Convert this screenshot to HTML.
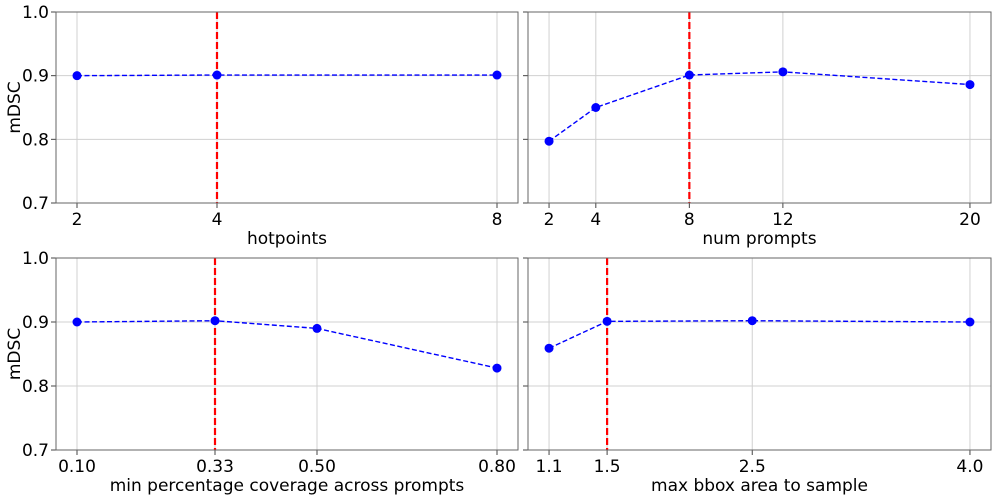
<!DOCTYPE html>
<html><head><meta charset="utf-8"><style>
body{margin:0;background:#fff;}
svg text{font-family:"DejaVu Sans","Liberation Sans",sans-serif;fill:#000;}
</style></head><body>
<svg id="chart" width="997" height="497" xmlns="http://www.w3.org/2000/svg"></svg>
<script>
const hotpointsX=[2,4,8];
const hotpointsY=[0.900,0.901,0.901];
const promptsX=[2,4,8,12,20];
const promptsY=[0.797,0.850,0.901,0.906,0.886];
const coverageX=[0.10,0.33,0.50,0.80];
const coverageY=[0.900,0.902,0.890,0.828];
const bboxX=[1.1,1.5,2.5,4.0];
const bboxY=[0.859,0.901,0.902,0.900];
const yTicks=[0.7,0.8,0.9,1.0];
const yTickLabels=["0.7","0.8","0.9","1.0"];
const hotpointsTicks=["2","4","8"];
const promptsTicks=["2","4","8","12","20"];
const coverageTicks=["0.10","0.33","0.50","0.80"];
const bboxTicks=["1.1","1.5","2.5","4.0"];
const selected=[4,8,0.33,1.5];

const svg=document.getElementById('chart');
const NS="http://www.w3.org/2000/svg";
function mk(tag,attrs,parent){const e=document.createElementNS(NS,tag);for(const k in attrs)e.setAttribute(k,attrs[k]);(parent||svg).appendChild(e);return e;}

const panels=[
 {name:'hotpoints',xs:hotpointsX,ys:hotpointsY,ticks:hotpointsTicks,xmin:1.7,xmax:8.3,L:56,R:518,T:12,B:203,label:'hotpoints',ylab:true},
 {name:'num-prompts',xs:promptsX,ys:promptsY,ticks:promptsTicks,xmin:1.1,xmax:20.9,L:528,R:991,T:12,B:203,label:'num prompts',ylab:false},
 {name:'coverage',xs:coverageX,ys:coverageY,ticks:coverageTicks,xmin:0.065,xmax:0.835,L:56,R:518,T:258,B:450,label:'min percentage coverage across prompts',ylab:true},
 {name:'bbox-area',xs:bboxX,ys:bboxY,ticks:bboxTicks,xmin:0.955,xmax:4.145,L:528,R:991,T:258,B:450,label:'max bbox area to sample',ylab:false}
];
panels.forEach((p,i)=>{
 const g=mk('g',{});
 
 
 const sx=v=>p.L+(v-p.xmin)/(p.xmax-p.xmin)*(p.R-p.L);
 const sy=v=>p.B-(v-0.7)/0.3*(p.B-p.T);
 p.xs.forEach((x,j)=>{
  mk('line',{x1:sx(x),x2:sx(x),y1:p.T,y2:p.B,stroke:'#d0d0d0','stroke-width':1},g);
  mk('line',{x1:sx(x),x2:sx(x),y1:p.B,y2:p.B+5,stroke:'#444','stroke-width':1},g);
  const t=mk('text',{x:sx(x),y:p.B+22,'text-anchor':'middle','font-size':17},g);
  t.textContent=p.ticks[j];
  
  
 });
 yTicks.forEach((y,j)=>{
  mk('line',{x1:p.L,x2:p.R,y1:sy(y),y2:sy(y),stroke:'#d0d0d0','stroke-width':1},g);
  mk('line',{x1:p.L-5,x2:p.L,y1:sy(y),y2:sy(y),stroke:'#444','stroke-width':1},g);
  if(p.ylab){const t=mk('text',{x:p.L-7,y:sy(y)+6,'text-anchor':'end','font-size':17},g);t.textContent=yTickLabels[j];
   
   }
 });
 const rl=mk('line',{x1:sx(selected[i]),x2:sx(selected[i]),y1:p.T,y2:p.B,stroke:'#ff0000','stroke-width':2.2,'stroke-dasharray':'7,3'},g);
 
 
 const pts=p.xs.map((x,j)=>sx(x)+','+sy(p.ys[j])).join(' ');
 const pl=mk('polyline',{points:pts,fill:'none',stroke:'#0000ff','stroke-width':1.4,'stroke-dasharray':'5,2.5'},g);
 
 
 p.xs.forEach((x,j)=>{
  const c=mk('circle',{cx:sx(x),cy:sy(p.ys[j]),r:4.5,fill:'#0000ff'},g);
  
  
 });
 mk('rect',{x:p.L,y:p.T,width:p.R-p.L,height:p.B-p.T,fill:'none',stroke:'#666','stroke-width':1},g);
 const xl=mk('text',{x:(p.L+p.R)/2,y:p.B+41,'text-anchor':'middle','font-size':17},g);
 xl.textContent=p.label;
 
 
 if(p.ylab){const yl=mk('text',{x:0,y:0,'text-anchor':'middle','font-size':17,transform:`translate(20,${(p.T+p.B)/2}) rotate(-90)`},g);yl.textContent='mDSC';
  
  }
});
</script>
</body></html>
